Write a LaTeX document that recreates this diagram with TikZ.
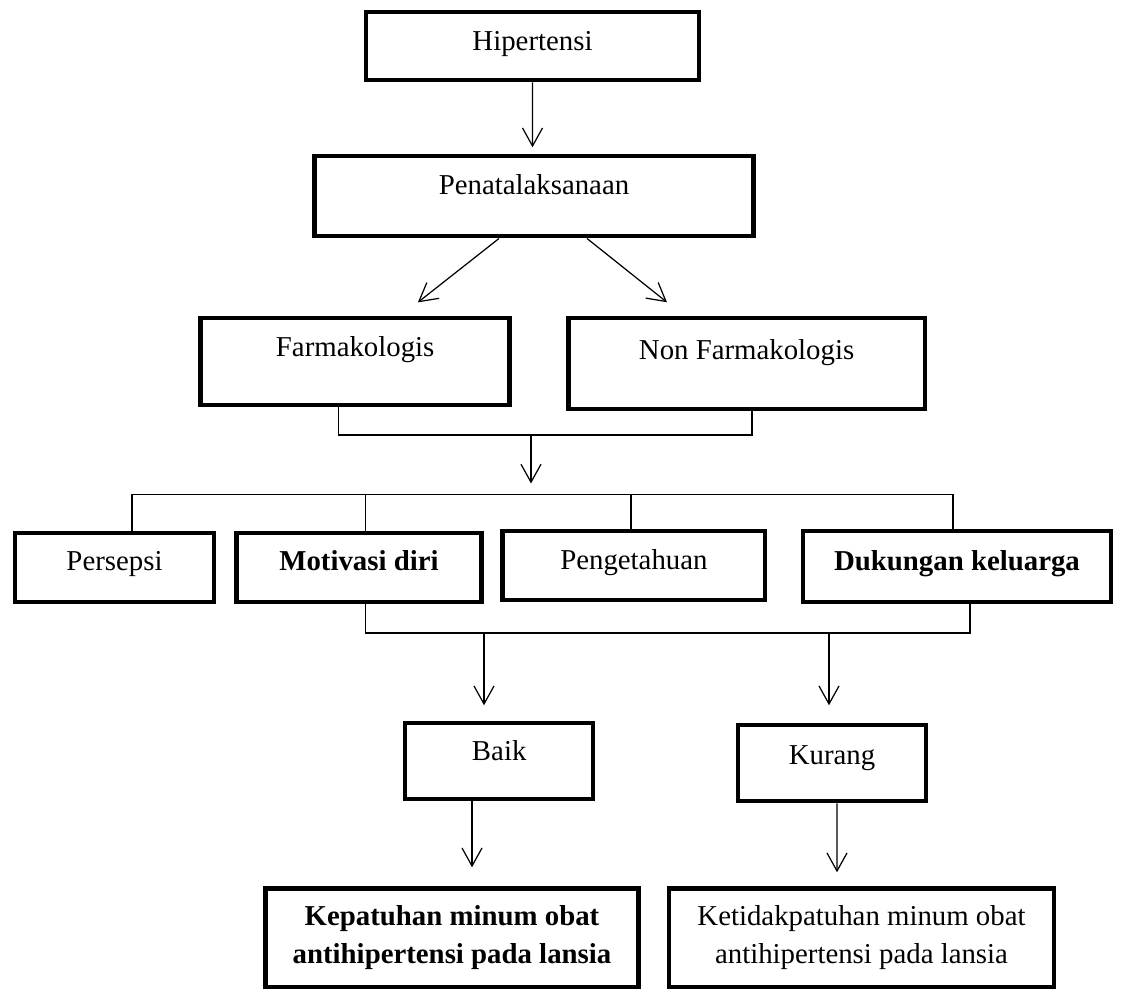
\documentclass[tikz,border=0pt]{standalone}
\usepackage{fontspec}
\setmainfont{Liberation Serif}
\usetikzlibrary{arrows.meta, calc}
\tikzset{
  box/.style={
    draw, line width=0.09cm, anchor=north, inner xsep=0pt, inner ysep=0pt,
    align=center, font=\fontsize{16.4}{21.6}\selectfont
  },
  flow/.style={draw, >={Straight Barb[length=0.36cm, width=0.4cm]}, ->, line width=0.7pt},
  link/.style={draw, line width=0.7pt},
}

\begin{document}
\begin{tikzpicture}[x=0.02cm, y=-0.02cm]
  \useasboundingbox (0,0) rectangle (1123,989);

  \node[box, minimum width=6.66cm, text height=0.76cm, text depth=0.60cm] (hipertensi) at (532.5,10) {Hipertensi};
  \node[box, minimum width=8.78cm, text height=0.76cm, text depth=0.84cm] (penata) at (534,154) {Penatalaksanaan};
  \node[box, minimum width=6.18cm, text height=0.76cm, text depth=0.98cm] (farmako) at (355.2,316) {Farmakologis};
  \node[box, minimum width=7.13cm, text height=0.82cm, text depth=1.00cm] (nonfarmako) at (746.6,316) {Non Farmakologis};

  \node[box, minimum width=3.98cm, text height=0.74cm, text depth=0.64cm] (persepsi) at (114.5,531) {Persepsi};
  \node[box, minimum width=4.90cm, text height=0.74cm, text depth=0.64cm] (motivasi) at (359,531) {\textbf{Motivasi diri}};
  \node[box, minimum width=5.25cm, text height=0.76cm, text depth=0.62cm] (pengetahuan) at (633.9,529) {Pengetahuan};
  \node[box, minimum width=6.16cm, text height=0.78cm, text depth=0.64cm] (dukungan) at (957,529) {\textbf{Dukungan keluarga}};

  \node[box, minimum width=3.76cm, text height=0.74cm, text depth=0.78cm] (baik) at (499.2,721) {Baik};
  \node[box, minimum width=3.76cm, text height=0.78cm, text depth=0.74cm] (kurang) at (832.1,723) {Kurang};

  \node[box, minimum width=7.47cm, minimum height=1.98cm] (patuh) at (452,886)
    {\textbf{Kepatuhan minum obat}\\\textbf{antihipertensi pada lansia}};
  \node[box, minimum width=7.70cm, minimum height=1.98cm] (tidakpatuh) at (861.5,886)
    {Ketidakpatuhan minum obat\\antihipertensi pada lansia};

  \coordinate (join1) at (531,435);
  \coordinate (bus1) at (531,494.5);
  \coordinate (join2) at (484,633);
  \coordinate (join3) at (829,633);

  \draw[flow, shorten >=0.135cm] (hipertensi.south) -- ($(penata.north)+(-1.5,0)$);
  \draw[flow, shorten >=0.44cm] ($(penata.south)+(-35,0)$) -- ($(farmako.north)+(45.4,0)$);
  \draw[flow, shorten >=0.44cm] ($(penata.south)+(53,0)$) -- ($(nonfarmako.north)+(-62.4,0)$);

  \draw[link] ($(farmako.south)+(-16.4,0)$) |- (join1) -| ($(nonfarmako.south)+(5.4,0)$);
  \draw[flow, shorten >=0.22cm] (join1) -- (bus1);

  \draw[link] ($(persepsi.north)+(17.5,0)$) |- (bus1) -| ($(dukungan.north)+(-4,0)$);
  \draw[link] ($(motivasi.north)+(6.6,0)$) |- (bus1);
  \draw[link] ($(pengetahuan.north)+(-2.9,0)$) |- (bus1);

  \draw[link] ($(motivasi.south)+(6.6,0)$) |- (join2) -- (join3) -| ($(dukungan.south)+(13,0)$);
  \draw[flow, shorten >=0.315cm] (join2) -- (join2 |- baik.north);
  \draw[flow, shorten >=0.355cm] (join3) -- (join3 |- kurang.north);

  \draw[flow, shorten >=0.375cm] ($(baik.south)+(-27.2,0)$) -- ($(patuh.north)+(20,0)$);
  \draw[flow, shorten >=0.275cm] ($(kurang.south)+(4.9,0)$) -- ($(tidakpatuh.north)+(-24.5,0)$);
\end{tikzpicture}
\end{document}
